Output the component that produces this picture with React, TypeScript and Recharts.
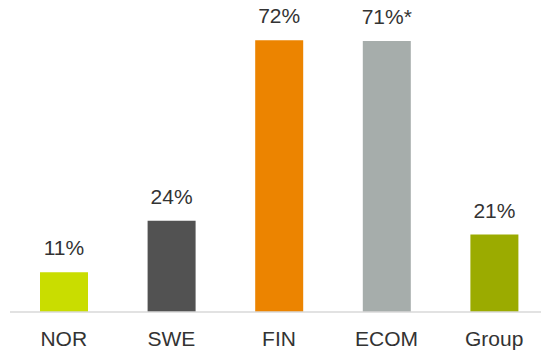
import { Bar, BarChart, Cell, LabelList, XAxis, YAxis } from "recharts";

const categories = ["NOR", "SWE", "FIN", "ECOM", "Group"];
const shares = [10.5, 24.2, 72, 71.8, 20.5];
const shareLabels = ["11%", "24%", "72%", "71%*", "21%"];
const barColors = ["#c9dd00", "#525252", "#ec8400", "#a6adab", "#9bab00"];

const data = categories.map((name, i) => ({
  name,
  value: shares[i],
  label: shareLabels[i],
}));

const font = "'Liberation Sans', Arial, sans-serif";

export default function App() {
  return (
    <div
      style={{
        position: "absolute",
        left: 0,
        top: 0,
        width: 541,
        height: 351,
        overflow: "hidden",
        background: "#fff",
      }}
    >
      <BarChart
        width={548}
        height={351}
        data={data}
        margin={{ top: 10, right: 0, bottom: 0, left: 10 }}
        barCategoryGap={0}
      >
        <XAxis
          dataKey="name"
          axisLine={{ stroke: "#d9d9d9", strokeWidth: 1.5 }}
          tickLine={false}
          tickMargin={13}
          height={39}
          interval={0}
          tick={{ fontSize: 21, fill: "#333333", fontFamily: font }}
        />
        <YAxis hide domain={[0, 80]} />
        <Bar dataKey="value" barSize={48} isAnimationActive={false}>
          {data.map((d, i) => (
            <Cell key={d.name} fill={barColors[i]} />
          ))}
          <LabelList
            dataKey="label"
            position="top"
            offset={17}
            style={{ fontSize: 21, fill: "#333333", fontFamily: font }}
          />
        </Bar>
      </BarChart>
    </div>
  );
}
